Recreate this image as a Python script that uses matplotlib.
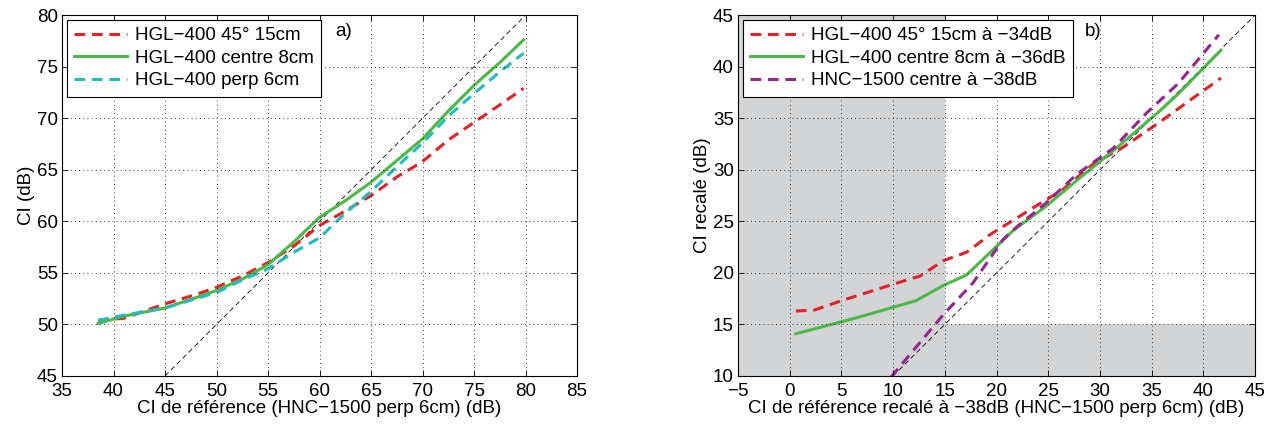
import numpy as np
import matplotlib
matplotlib.use("Agg")
import matplotlib.pyplot as plt

plt.rcParams['font.family'] = ['Liberation Sans', 'DejaVu Sans']
plt.rcParams['font.size'] = 13.5

# panel a) data
ref_a = [38.5, 41, 45, 48, 50, 52.5, 55, 57.5, 60, 62.5, 65, 67.5, 70, 72.5, 75, 77.5, 79.8]
hgl45 = [50.4, 50.6, 52.0, 52.9, 53.6, 54.7, 56.0, 57.6, 59.6, 61.0, 62.5, 64.3, 65.8, 67.9, 69.6, 71.3, 72.9]
hgl_centre = [50.1, 50.8, 51.6, 52.6, 53.3, 54.4, 55.8, 58.0, 60.4, 62.0, 63.8, 65.9, 68.0, 70.7, 73.2, 75.4, 77.6]
hgl_perp = [50.4, 50.9, 51.6, 52.5, 53.1, 54.3, 55.4, 57.0, 58.4, 60.8, 62.9, 65.3, 67.6, 70.2, 72.4, 74.5, 76.3]

# panel b) data
ref_b_red = [0.6, 2.4, 5.0, 7.5, 10.0, 12.6, 14.9, 17.1, 19.5, 21.6, 24.0, 26.3, 29.4, 32.1, 35.6, 38.5, 41.7]
red_b = [16.3, 16.4, 17.3, 18.1, 18.9, 19.7, 21.2, 22.0, 23.8, 25.1, 26.6, 28.0, 30.6, 32.1, 34.5, 36.6, 38.9]
ref_b_green = [0.6, 6.3, 12.2, 14.9, 17.1, 21.6, 24.7, 27.8, 31.7, 36.0, 37.6, 41.7]
green_b = [14.1, 15.6, 17.3, 18.8, 19.8, 24.1, 26.4, 29.0, 32.2, 35.9, 37.4, 41.6]
ref_b_purple = [9.8, 14.9, 17.7, 20.6, 22.0, 24.7, 27.8, 31.3, 34.5, 37.6, 41.5]
purple_b = [9.9, 16.0, 19.0, 23.2, 24.5, 26.7, 29.6, 32.1, 35.5, 38.4, 43.1]

RED = '#e42127'
GREEN = '#4cb848'
CYAN = '#20bcc0'
PURPLE = '#95268f'
dash = (0, (3.5, 2.2))
leg_kw = dict(loc='upper left', fancybox=False, edgecolor='black', framealpha=1,
              handlelength=2.8, handletextpad=0.45, borderaxespad=0.25,
              labelspacing=0.28, borderpad=0.4, fontsize=13.5)

fig = plt.figure(figsize=(12.73, 4.25), dpi=100)
ax1 = fig.add_axes([0.0487, 0.1153, 0.4046, 0.849])
ax2 = fig.add_axes([0.5797, 0.1153, 0.4062, 0.849])

# ---- a)
ax1.plot([45, 80], [45, 80], color='black', lw=0.6, ls=(0, (6, 4)))
ax1.plot(ref_a, hgl45, color=RED, lw=2.2, ls=dash, label='HGL\u2212400 45\u00b0 15cm')
ax1.plot(ref_a, hgl_centre, color=GREEN, lw=2.2, label='HGL\u2212400 centre 8cm')
ax1.plot(ref_a, hgl_perp, color=CYAN, lw=2.2, ls=dash, label='HGL\u2212400 perp 6cm')
ax1.set_xlim(35, 85)
ax1.set_ylim(45, 80)
ax1.set_xticks(np.arange(35, 86, 5))
ax1.set_yticks(np.arange(45, 81, 5))
ax1.set_xlabel('CI de r\u00e9f\u00e9rence (HNC\u22121500 perp 6cm) (dB)', labelpad=0)
ax1.set_ylabel('CI (dB)', labelpad=1)
ax1.text(61.5, 78.4, 'a)', va='center')
ax1.legend(**leg_kw)

# ---- b)
ax2.fill_between([-5, 15], 10, 45, color='#d3d4d6', lw=0, zorder=0)
ax2.fill_between([15, 45], 10, 15, color='#d3d4d6', lw=0, zorder=0)
ax2.plot([10, 45], [10, 45], color='black', lw=0.6, ls=(0, (6, 4)))
ax2.plot(ref_b_red, red_b, color=RED, lw=2.2, ls=dash, label='HGL\u2212400 45\u00b0 15cm \u00e0 \u221234dB')
ax2.plot(ref_b_green, green_b, color=GREEN, lw=2.2, label='HGL\u2212400 centre 8cm \u00e0 \u221236dB')
ax2.plot(ref_b_purple, purple_b, color=PURPLE, lw=2.2, ls=dash, label='HNC\u22121500 centre \u00e0 \u221238dB')
ax2.set_xlim(-5, 45)
ax2.set_ylim(10, 45)
ax2.set_xticks(np.arange(-5, 46, 5))
ax2.set_yticks(np.arange(10, 46, 5))
ax2.set_xticklabels(['\u22125'] + [str(v) for v in range(0, 46, 5)])
ax2.set_xlabel('CI de r\u00e9f\u00e9rence recal\u00e9 \u00e0 \u221238dB (HNC\u22121500 perp 6cm) (dB)', labelpad=0)
ax2.set_ylabel('CI recal\u00e9 (dB)', labelpad=1)
ax2.text(28.5, 43.4, 'b)', va='center')
ax2.legend(**leg_kw)

for ax in (ax1, ax2):
    ax.grid(True, color='black', ls=(0, (1, 4)), lw=0.6)
    ax.set_axisbelow(False)
    ax.tick_params(direction='in', length=4, width=0.6, top=True, right=True)
    ax.tick_params(axis='x', pad=5)
    ax.tick_params(axis='y', pad=3)
    for s in ax.spines.values():
        s.set_linewidth(0.8)
    ax.get_legend().get_frame().set_linewidth(0.8)
    ax.get_legend().set_zorder(5)

fig.savefig('out.png', dpi=100)
